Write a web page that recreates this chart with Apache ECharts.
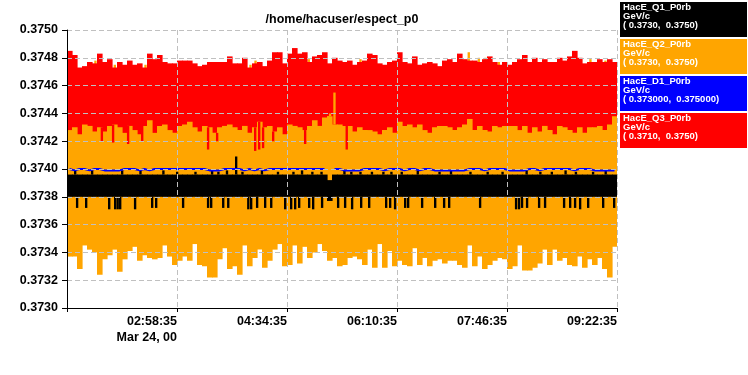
<!DOCTYPE html>
<html><head><meta charset="utf-8">
<script src="https://cdn.jsdelivr.net/npm/echarts@6/dist/echarts.min.js"></script>
<style>html,body{margin:0;padding:0;background:#fff}#c{width:748px;height:375px}</style>
</head><body><div id="c"></div>
<script>
// ---- data (time axis in minutes after 01:22:35, Mar 24) ----
const chartTitle = '/home/hacuser/espect_p0';
const xTickLabels = ['', '02:58:35', '04:34:35', '06:10:35', '07:46:35', '09:22:35'];
const dateLabel = 'Mar 24, 00';
const legendNames = ['HacE_Q1_P0rb', 'HacE_Q2_P0rb', 'HacE_D1_P0rb', 'HacE_Q3_P0rb'];
const legendUnits = ['GeV/c', 'GeV/c', 'GeV/c', 'GeV/c'];
const legendRanges = ['( 0.3730,  0.3750)', '( 0.3730,  0.3750)', '( 0.373000,  0.375000)', '( 0.3710,  0.3750)'];

// Q3 (red) per-interval max / min
const redHigh = [0.37485,0.37482,0.37473,0.37474,0.37477,0.37476,0.37483,0.37477,0.37479,0.37473,
0.37477,0.37475,0.37478,0.37475,0.37476,0.37473,0.37483,0.37479,0.37482,0.37477,
0.37476,0.37476,0.37478,0.37478,0.37478,0.37476,0.37474,0.37475,0.37477,0.37477,
0.37477,0.37477,0.37481,0.37476,0.37476,0.37480,0.37473,0.37476,0.37477,0.37474,
0.37478,0.37484,0.37484,0.37476,0.37483,0.37487,0.37483,0.37484,0.37477,0.37481,
0.37482,0.37484,0.37476,0.37480,0.37478,
0.37477,0.37478,0.37475,0.37477,0.37478,0.37483,0.37482,0.37476,0.37475,0.37477,
0.37478,0.37484,0.37477,0.37476,0.37481,0.37475,0.37476,0.37477,0.37476,0.37474,
0.37478,0.37479,0.37477,0.37483,0.37479,0.37478,0.37478,0.37477,0.37479,0.37481,
0.37477,0.37475,0.37477,0.37475,0.37477,0.37479,0.37482,0.37477,0.37480,0.37477,
0.37479,0.37477,0.37477,0.37480,0.37478,0.37481,0.37485,0.37480,0.37476,0.37477,
0.37477,0.37479,0.37477,0.37479,0.37477];
const redLow = [0.37420,0.37420,0.37420,0.37420,0.37420,0.37420,0.37420,0.37420,0.37420,0.37420,
0.37420,0.37420,0.37420,0.37420,0.37420,0.37420,0.37420,0.37420,0.37420,0.37420,
0.37420,0.37420,0.37420,0.37420,0.37420,0.37420,0.37420,0.37420,0.37420,0.37420,
0.37420,0.37420,0.37420,0.37420,0.37420,0.37420,0.37420,0.37420,0.37420,0.37420,
0.37420,0.37420,0.37420,0.37420,0.37420,0.37420,0.37420,0.37420,0.37420,0.37420,
0.37420,0.37420,0.37420,0.37420,0.37420,
0.37420,0.37420,0.37420,0.37420,0.37420,0.37420,0.37420,0.37420,0.37420,0.37420,
0.37420,0.37420,0.37420,0.37420,0.37420,0.37420,0.37420,0.37420,0.37420,0.37420,
0.37420,0.37420,0.37420,0.37420,0.37420,0.37420,0.37420,0.37420,0.37420,0.37420,
0.37420,0.37420,0.37420,0.37420,0.37420,0.37420,0.37420,0.37420,0.37420,0.37420,
0.37420,0.37420,0.37420,0.37420,0.37420,0.37420,0.37420,0.37420,0.37420,0.37420,
0.37420,0.37420,0.37420,0.37420,0.37420];
const redDipTimes = [30.3, 40.1, 53.2, 65.5, 123.0, 130.9, 164.1, 167.6, 171.0, 179.8, 207.7, 244.0];
const redDipValues = [0.37420, 0.37419, 0.37418, 0.37420, 0.37414, 0.37420, 0.37413, 0.37414, 0.37415, 0.37420, 0.37418, 0.37414];

// Q2 (orange) per-interval max / min
const orangeHigh = [0.37428,0.37430,0.37425,0.37432,0.37431,0.37427,0.37430,0.37427,0.37431,0.37432,
0.37430,0.37426,0.37431,0.37428,0.37425,0.37431,0.37435,0.37426,0.37431,0.37432,
0.37428,0.37426,0.37431,0.37432,0.37434,0.37430,0.37427,0.37431,0.37430,0.37426,
0.37430,0.37431,0.37432,0.37430,0.37428,0.37431,0.37426,0.37430,0.37434,0.37430,
0.37431,0.37427,0.37430,0.37425,0.37432,0.37431,0.37430,0.37428,0.37431,0.37435,
0.37431,0.37437,0.37438,0.37432,0.37432,
0.37431,0.37431,0.37427,0.37430,0.37428,0.37428,0.37427,0.37425,0.37428,0.37430,
0.37426,0.37434,0.37431,0.37432,0.37430,0.37432,0.37428,0.37426,0.37430,0.37431,
0.37431,0.37430,0.37428,0.37430,0.37432,0.37436,0.37428,0.37431,0.37428,0.37427,
0.37431,0.37430,0.37431,0.37431,0.37431,0.37428,0.37431,0.37426,0.37430,0.37427,
0.37431,0.37428,0.37425,0.37431,0.37430,0.37428,0.37426,0.37430,0.37426,0.37430,
0.37430,0.37431,0.37428,0.37432,0.37438];
const orangeLow = [0.37337,0.37337,0.37328,0.37345,0.37342,0.37340,0.37324,0.37335,0.37338,0.37342,
0.37326,0.37335,0.37341,0.37344,0.37334,0.37338,0.37336,0.37335,0.37336,0.37345,
0.37337,0.37331,0.37334,0.37337,0.37334,0.37346,0.37331,0.37330,0.37322,0.37322,
0.37335,0.37343,0.37328,0.37330,0.37324,0.37345,0.37330,0.37336,0.37342,0.37329,
0.37334,0.37342,0.37346,0.37330,0.37331,0.37345,0.37332,0.37344,0.37336,0.37340,
0.37346,0.37341,0.37334,0.37336,0.37330,
0.37331,0.37336,0.37337,0.37335,0.37331,0.37342,0.37329,0.37346,0.37329,0.37341,
0.37330,0.37334,0.37331,0.37330,0.37343,0.37331,0.37336,0.37330,0.37334,0.37335,
0.37332,0.37334,0.37334,0.37331,0.37329,0.37345,0.37330,0.37337,0.37328,0.37331,
0.37334,0.37336,0.37335,0.37328,0.37330,0.37345,0.37327,0.37327,0.37329,0.37332,
0.37342,0.37331,0.37342,0.37334,0.37336,0.37331,0.37330,0.37337,0.37329,0.37335,
0.37331,0.37336,0.37328,0.37322,0.37344];
const orangePeakTimes = [24.7, 41.6, 68.4, 160.0, 164.4, 210.9, 256.0, 350.5, 359.3, 365.1, 376.7, 456.7, 469.8];
const orangePeakValues = [0.37478, 0.37475, 0.37475, 0.37475, 0.37478, 0.37479, 0.37479, 0.37484, 0.37480, 0.37480, 0.37477, 0.37479, 0.37478];
const orangeSpikeTimes = [224.3, 228.0, 229.5, 233.3];
const orangeSpikeValues = [0.37436, 0.37438, 0.37440, 0.37455];

// Q1 (black) per-interval max / min
const blackHigh = [0.37396,0.37396,0.37396,0.37396,0.37396,0.37396,0.37396,0.37396,0.37396,0.37396,
0.37396,0.37396,0.37396,0.37396,0.37396,0.37396,0.37396,0.37396,0.37396,0.37396,
0.37396,0.37396,0.37396,0.37396,0.37396,0.37396,0.37396,0.37396,0.37396,0.37396,
0.37396,0.37396,0.37396,0.37396,0.37396,0.37396,0.37396,0.37396,0.37396,0.37396,
0.37396,0.37396,0.37396,0.37396,0.37396,0.37396,0.37396,0.37396,0.37396,0.37396,
0.37396,0.37396,0.37392,0.37396,0.37396,
0.37396,0.37396,0.37396,0.37396,0.37396,0.37396,0.37396,0.37396,0.37396,0.37396,
0.37396,0.37396,0.37396,0.37396,0.37396,0.37396,0.37396,0.37396,0.37396,0.37396,
0.37396,0.37396,0.37396,0.37396,0.37396,0.37396,0.37396,0.37396,0.37396,0.37396,
0.37396,0.37396,0.37396,0.37396,0.37396,0.37396,0.37396,0.37396,0.37396,0.37396,
0.37396,0.37396,0.37396,0.37396,0.37396,0.37396,0.37396,0.37396,0.37396,0.37396,
0.37396,0.37396,0.37396,0.37396,0.37396];
const blackLow = [0.37380,0.37380,0.37380,0.37380,0.37380,0.37380,0.37380,0.37380,0.37380,0.37380,
0.37380,0.37380,0.37380,0.37380,0.37380,0.37380,0.37380,0.37380,0.37380,0.37380,
0.37380,0.37380,0.37380,0.37380,0.37380,0.37380,0.37380,0.37380,0.37380,0.37380,
0.37380,0.37380,0.37380,0.37380,0.37380,0.37380,0.37380,0.37380,0.37380,0.37380,
0.37380,0.37380,0.37380,0.37380,0.37380,0.37380,0.37380,0.37380,0.37380,0.37380,
0.37380,0.37380,0.37377,0.37380,0.37380,
0.37380,0.37380,0.37380,0.37380,0.37380,0.37380,0.37380,0.37380,0.37380,0.37380,
0.37380,0.37380,0.37380,0.37380,0.37380,0.37380,0.37380,0.37380,0.37380,0.37380,
0.37380,0.37380,0.37380,0.37380,0.37380,0.37380,0.37380,0.37380,0.37380,0.37380,
0.37380,0.37380,0.37380,0.37380,0.37380,0.37380,0.37380,0.37380,0.37380,0.37380,
0.37380,0.37380,0.37380,0.37380,0.37380,0.37380,0.37380,0.37380,0.37380,0.37380,
0.37380,0.37380,0.37380,0.37380,0.37380];
const blackDipTimes = [8.7, 16.6, 36.7, 41.9, 44.1, 46.3, 59.3, 74.2, 77.7, 101.2, 123.0, 125.7, 136.2, 140.6,
158.1, 160.6, 165.8, 172.8, 178.1, 190.3, 195.5, 199.0, 202.5, 211.2, 214.7, 222.5, 236.5, 242.6, 248.7,
256.6, 263.6, 278.4, 281.9, 286.2, 295.0, 297.6, 309.8, 321.2, 329.0, 333.4, 360.4, 391.8, 394.4, 397.0,
401.4, 411.9, 417.1, 433.7, 439.0, 443.3, 447.7, 454.7, 467.8, 477.4];
const blackDipValues = [0.37372, 0.37372, 0.37371, 0.37371, 0.37371, 0.37371, 0.37371, 0.37372, 0.37372, 0.37372, 0.37372, 0.37372, 0.37372, 0.37372,
0.37371, 0.37371, 0.37372, 0.37372, 0.37372, 0.37371, 0.37371, 0.37371, 0.37372, 0.37372, 0.37371, 0.37372, 0.37372, 0.37372, 0.37371,
0.37372, 0.37372, 0.37372, 0.37372, 0.37371, 0.37372, 0.37372, 0.37372, 0.37372, 0.37372, 0.37372, 0.37372, 0.37371, 0.37371, 0.37372,
0.37372, 0.37372, 0.37372, 0.37372, 0.37372, 0.37372, 0.37371, 0.37372, 0.37372, 0.37372];
const blackUpTimes = [7, 21.8, 48, 64, 84, 96, 112, 126.5, 132, 139.5, 147.5, 153, 170, 184, 197.5, 205, 214, 222, 242, 248,
256, 266, 276, 283, 292, 306, 325, 335, 352, 367, 380, 401, 413, 423, 435, 444, 459, 470];
const blackUpValues = [0.37399, 0.37399, 0.37399, 0.37399, 0.37399, 0.37398, 0.37398, 0.37399, 0.37398, 0.37399, 0.37409, 0.37398, 0.37399, 0.37398, 0.37398, 0.37399, 0.37398, 0.37398, 0.37399, 0.37398,
0.37398, 0.37398, 0.37398, 0.37398, 0.37398, 0.37399, 0.37398, 0.37399, 0.37398, 0.37398, 0.37398, 0.37399, 0.37398, 0.37398, 0.37399, 0.37398, 0.37398, 0.37399];

// D1 (blue)
const blueValues = [0.37400,0.37399,0.37400,0.37400,0.37399,0.37400,0.37400,0.37399,0.37399,0.37399,
0.37399,0.37400,0.37400,0.37400,0.37399,0.37400,0.37399,0.37400,0.37400,0.37400,
0.37400,0.37400,0.37400,0.37400,0.37400,0.37400,0.37400,0.37400,0.37399,0.37399,
0.37399,0.37400,0.37400,0.37400,0.37400,0.37399,0.37400,0.37399,0.37400,0.37399,
0.37400,0.37400,0.37400,0.37400,0.37400,0.37400,0.37400,0.37400,0.37400,0.37400,
0.37400,0.37400,null,0.37400,0.37400,
0.37399,0.37399,0.37399,0.37399,0.37400,0.37400,0.37400,0.37400,0.37399,0.37400,
0.37400,0.37400,0.37399,0.37400,0.37400,0.37399,0.37400,0.37400,0.37399,0.37399,
0.37399,0.37399,0.37399,0.37399,0.37399,0.37400,0.37400,0.37400,0.37399,0.37400,
0.37400,0.37400,0.37400,0.37399,0.37399,0.37399,0.37399,0.37400,0.37400,0.37399,
0.37400,0.37400,0.37400,0.37400,0.37400,0.37400,0.37399,0.37400,0.37400,0.37400,
0.37399,0.37399,0.37399,0.37399,0.37399];

// ---- build ----
const spanMinutes = 480, tickMinutes = 96;
const nBins = redHigh.length;
const binMinutes = spanMinutes / nBins;
const binTimes = redHigh.map((_, i) => (i + 0.5) * binMinutes);
const binOf = t => Math.min(nBins - 1, Math.floor(t / binMinutes));
const FONT = '"Liberation Sans", Arial, Helvetica, sans-serif';

const bandItems = (lo, hi) => binTimes.map((t, i) => [t, lo[i], hi[i]]);
const spikeItems = (times, vals, baseArr, upward) =>
  times.map((t, i) => upward ? [t, baseArr[binOf(t)], vals[i]] : [t, vals[i], baseArr[binOf(t)]]);

function rectSeries(name, color, items, halfW, z, pad) {
  return {
    type: 'custom', name, z, clip: true, silent: true, animation: false,
    encode: { x: 0, y: [1, 2] }, data: items,
    renderItem: (params, api) => {
      const t = api.value(0), lo = api.value(1), hi = api.value(2);
      const a = api.coord([t - halfW, hi]);
      const b = api.coord([t + halfW, lo]);
      return { type: 'rect', shape: { x: a[0], y: a[1], width: b[0] - a[0] + pad, height: Math.max(1, b[1] - a[1]) },
        style: { fill: color } };
    }
  };
}
const C = { black: '#000000', orange: '#FFA500', blue: '#0000FF', red: '#FF0000' };
const bw = binMinutes / 2, sw = 0.9;

const series = [
  rectSeries('Q2peaks', C.orange, spikeItems(orangePeakTimes, orangePeakValues, orangeHigh, true), sw, 2, 0.3),
  rectSeries('HacE_Q3_P0rb', C.red, bandItems(redLow, redHigh), bw, 3, 0.6),
  rectSeries('HacE_Q2_P0rb', C.orange, bandItems(orangeLow, orangeHigh), bw, 4, 0.6),
  rectSeries('Q2spikes', C.orange, spikeItems(orangeSpikeTimes, orangeSpikeValues, orangeHigh, true), sw, 5, 0.3),
  rectSeries('Q3dips', C.red, spikeItems(redDipTimes, redDipValues, orangeHigh, false), sw, 6, 0.3),
  rectSeries('HacE_Q1_P0rb', C.black, bandItems(blackLow, blackHigh), bw, 7, 0.6),
  rectSeries('Q1dips', C.black, spikeItems(blackDipTimes, blackDipValues, blackLow, false), sw, 8, 0.3),
  rectSeries('Q1ups', C.black, spikeItems(blackUpTimes, blackUpValues, blackHigh, true), sw, 9, 0.3),
  { type: 'line', name: 'HacE_D1_P0rb', z: 10, data: binTimes.map((t, i) => [t, blueValues[i]]),
    showSymbol: false, symbol: 'none', connectNulls: false, animation: false, silent: true,
    lineStyle: { color: C.blue, width: 2 }, itemStyle: { color: C.blue } }
];

const legendColors = [C.black, C.orange, C.blue, C.red];
const graphics = [{ type: 'text', x: 342, y: 20, z: 50,
  style: { text: chartTitle, font: 'bold 12.5px ' + FONT, fill: '#000', textAlign: 'center', textVerticalAlign: 'middle' } }];
legendNames.forEach((n, i) => {
  const top = 2 + i * 37;
  graphics.push({ type: 'rect', x: 620, y: top, z: 50, shape: { width: 127, height: 35 }, style: { fill: legendColors[i] } });
  [n, legendUnits[i], legendRanges[i]].forEach((s, k) => {
    graphics.push({ type: 'text', x: 623, y: top + 5.5 + k * 9, z: 51,
      style: { text: s, font: 'bold 9.5px ' + FONT, fill: '#fff', textAlign: 'left', textVerticalAlign: 'middle' } });
  });
});

const chart = echarts.init(document.getElementById('c'), null, { renderer: 'canvas' });
chart.setOption({
  backgroundColor: '#fff',
  animation: false,
  grid: { left: 67, right: 131, top: 30, bottom: 67 },
  xAxis: {
    type: 'value', min: 0, max: spanMinutes, interval: tickMinutes, z: 20,
    axisLine: { lineStyle: { color: '#000', width: 1 } },
    axisTick: { show: true, length: 4, lineStyle: { color: '#000' } },
    splitLine: { show: true, lineStyle: { color: '#c0c0c0', type: [5, 3], width: 1 } },
    axisLabel: {
      margin: 6, align: 'right', color: '#000', fontFamily: FONT, fontWeight: 'bold', fontSize: 12.5, lineHeight: 16,
      showMinLabel: true, showMaxLabel: true,
      formatter: v => { const i = Math.round(v / tickMinutes); let s = xTickLabels[i] || ''; if (i === 1) s += '\n' + dateLabel; return s; }
    }
  },
  yAxis: {
    type: 'value', min: 0.3730, max: 0.3750, interval: 0.0002, z: 20,
    axisLine: { show: true, lineStyle: { color: '#000', width: 1 } },
    axisTick: { show: true, length: 5, lineStyle: { color: '#000' } },
    splitLine: { show: true, lineStyle: { color: '#c0c0c0', type: [5, 3], width: 1 } },
    axisLabel: { margin: 9, color: '#000', fontFamily: FONT, fontWeight: 'bold', fontSize: 12.5,
      formatter: v => v.toFixed(4) }
  },
  graphic: graphics,
  series
});
</script>
</body></html>
